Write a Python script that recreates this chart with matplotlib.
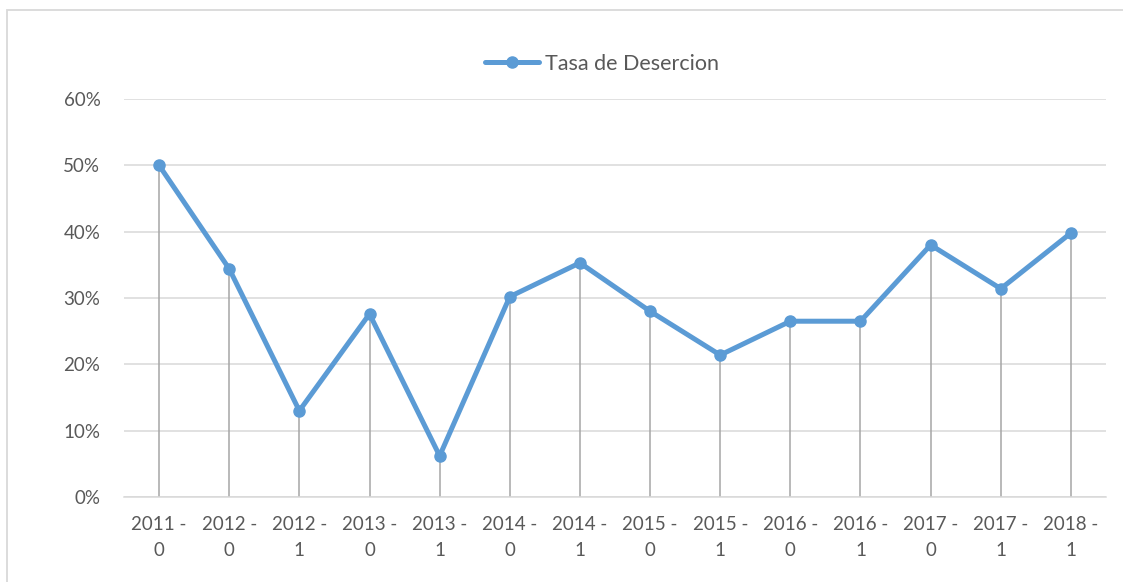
import matplotlib.pyplot as plt
from matplotlib.patches import Rectangle
from matplotlib.ticker import FuncFormatter

periods = ["2011 -\n0", "2012 -\n0", "2012 -\n1", "2013 -\n0", "2013 -\n1",
           "2014 -\n0", "2014 -\n1", "2015 -\n0", "2015 -\n1", "2016 -\n0",
           "2016 -\n1", "2017 -\n0", "2017 -\n1", "2018 -\n1"]
tasa = [0.500, 0.344, 0.130, 0.276, 0.062, 0.302, 0.353, 0.280,
        0.214, 0.265, 0.265, 0.380, 0.314, 0.398]

BLUE = "#5B9BD5"
TXT = "#595959"

plt.rcParams["font.family"] = ["Lato", "DejaVu Sans"]

fig = plt.figure(figsize=(11.23, 5.82), dpi=100)
ax = fig.add_axes([124 / 1123, 1 - 497 / 582, (1106 - 124) / 1123, (497 - 99) / 582])

# chart border like excel
fig.patches.append(Rectangle((7 / 1123, -0.1), 1.2, 1 - 10 / 582 + 0.1,
                             transform=fig.transFigure, fill=False,
                             edgecolor="#D9D9D9", linewidth=1.3))

x = list(range(len(tasa)))

# drop lines
ax.vlines(x, 0, tasa, color="#A6A6A6", linewidth=1.1, zorder=2)
ax.plot(x, tasa, color=BLUE, linewidth=3.6, marker="o", markersize=8,
        solid_capstyle="round", zorder=3, label="Tasa de Desercion")

ax.set_xlim(-0.5, len(tasa) - 0.5)
ax.set_ylim(0, 0.6)
ax.set_yticks([0, 0.1, 0.2, 0.3, 0.4, 0.5, 0.6])
ax.yaxis.set_major_formatter(FuncFormatter(lambda v, p: f"{v * 100:.0f}%"))
ax.set_xticks(x)
ax.set_xticklabels(periods)

ax.grid(axis="y", color="#D9D9D9", linewidth=1.1)
ax.set_axisbelow(True)
for s in ["top", "right", "left"]:
    ax.spines[s].set_visible(False)
ax.spines["bottom"].set_color("#D9D9D9")
ax.spines["bottom"].set_linewidth(1.1)
ax.tick_params(axis="both", length=0, colors=TXT, labelsize=13.5)
ax.tick_params(axis="x", pad=14)
ax.tick_params(axis="y", pad=17)
for lbl in ax.get_xticklabels():
    lbl.set_linespacing(1.6)

ax.legend(loc="center", bbox_to_anchor=(602 / 1123, 1 - 64 / 582),
          bbox_transform=fig.transFigure, frameon=False, fontsize=15.5,
          labelcolor=TXT, handlelength=2.5, handletextpad=0.25)

fig.savefig("out.png", dpi=100)
